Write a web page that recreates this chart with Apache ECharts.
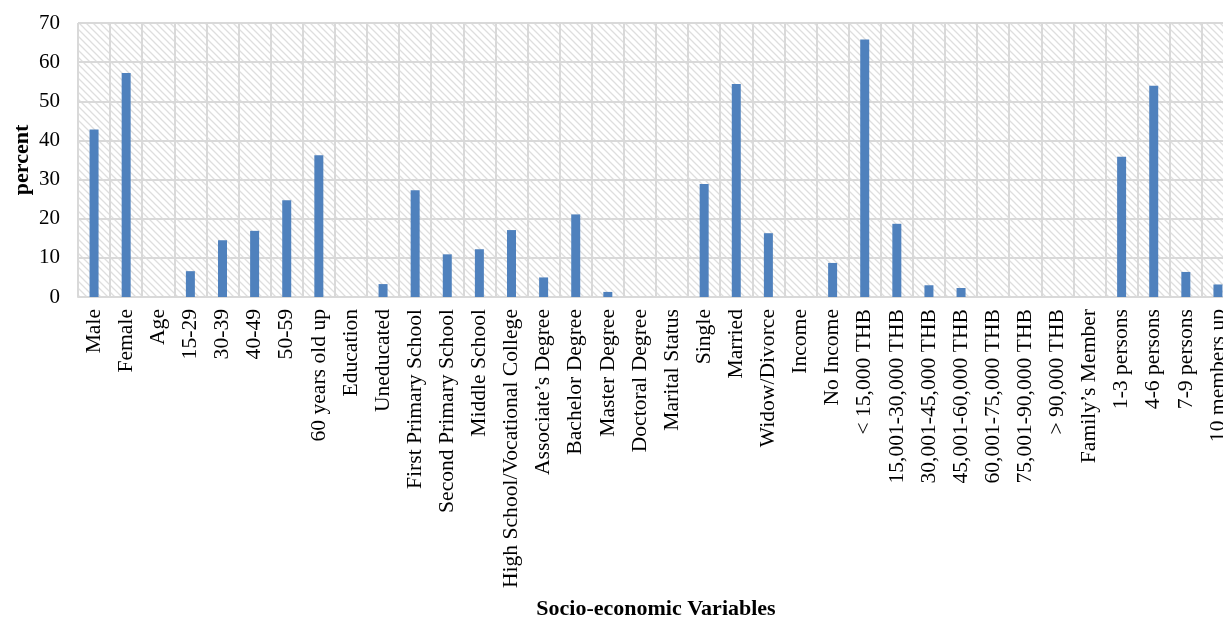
<!DOCTYPE html>
<html>
<head>
<meta charset="utf-8">
<title>Socio-economic Variables</title>
<script src="https://cdn.jsdelivr.net/npm/echarts@6/dist/echarts.min.js"></script>
<style>
  html, body { margin: 0; padding: 0; background: #fff; }
  #main { width: 1223px; height: 619px; }
</style>
</head>
<body>
<div id="main"></div>
<script>
// categories (group headings have no bar)
var categories = [
    'Male', 'Female', 'Age', '15-29', '30-39', '40-49', '50-59', '60 years old up',
    'Education', 'Uneducated', 'First Primary School', 'Second Primary School', 'Middle School',
    'High School/Vocational College', 'Associate\u2019s Degree', 'Bachelor Degree', 'Master Degree',
    'Doctoral Degree', 'Marital Status', 'Single', 'Married', 'Widow/Divorce', 'Income',
    'No Income', '< 15,000 THB', '15,001-30,000 THB', '30,001-45,000 THB', '45,001-60,000 THB',
    '60,001-75,000 THB', '75,001-90,000 THB', '> 90,000 THB', 'Family\u2019s Member',
    '1-3 persons', '4-6 persons', '7-9 persons', '10 members up'
]
// percent values
var percent = [
    42.8, 57.2, null, 6.6, 14.5, 16.9, 24.7, 36.2,
    null, 3.3, 27.3, 10.9, 12.2,
    17.1, 5.0, 21.1, 1.3,
    0, null, 28.9, 54.4, 16.3, null,
    8.7, 65.8, 18.7, 3.0, 2.3,
    0, 0, 0, null,
    35.8, 54.0, 6.4, 3.2
]
var yTicks = { min: 0, max: 70, interval: 10 }

// hatched plot background (light grey downward diagonals)
function hatch() {
    var c = document.createElement('canvas')
    c.width = 7
    c.height = 7
    var ctx = c.getContext('2d')
    ctx.fillStyle = '#ffffff'
    ctx.fillRect(0, 0, 7, 7)
    ctx.strokeStyle = '#dedede'
    ctx.lineWidth = 1.3
    ctx.beginPath()
    ctx.moveTo(-1, -1); ctx.lineTo(8, 8)
    ctx.moveTo(-8, -1); ctx.lineTo(1, 8)
    ctx.moveTo(6, -1); ctx.lineTo(15, 8)
    ctx.stroke()
    return c
}

var font = '"Liberation Serif", "Times New Roman", serif'
var myChart = echarts.init(document.getElementById('main'))
var option = {
    animation: false,
    backgroundColor: '#ffffff',
    grid: {
        show: true,
        left: 78,
        top: 23,
        width: 1156,
        height: 274,
        outerBoundsMode: 'none',
        containLabel: false,
        borderWidth: 0,
        backgroundColor: { image: hatch(), repeat: 'repeat' }
    },
    xAxis: {
        type: 'category',
        data: categories,
        name: 'Socio-economic Variables',
        nameLocation: 'middle',
        nameGap: 301,
        nameMoveOverlap: false,
        nameTextStyle: { fontFamily: font, fontSize: 22, fontWeight: 'bold', color: '#000' },
        axisLine: { lineStyle: { color: '#d9d9d9', width: 2 } },
        axisTick: { show: false },
        axisLabel: {
            interval: 0,
            rotate: 90,
            margin: 12,
            fontFamily: font,
            fontSize: 21.6,
            color: '#000'
        },
        splitLine: { show: true, interval: 0, lineStyle: { color: '#d9d9d9', width: 2 } }
    },
    yAxis: {
        type: 'value',
        min: yTicks.min,
        max: yTicks.max,
        interval: yTicks.interval,
        name: 'percent',
        nameLocation: 'middle',
        nameGap: 45,
        nameMoveOverlap: false,
        nameTextStyle: { fontFamily: font, fontSize: 22, fontWeight: 'bold', color: '#000' },
        axisLine: { show: false },
        axisTick: { show: false },
        axisLabel: { margin: 18, fontFamily: font, fontSize: 21, color: '#000' },
        splitLine: { lineStyle: { color: '#d9d9d9', width: 2 } }
    },
    series: [
        {
            name: 'percent',
            type: 'bar',
            barWidth: 9,
            itemStyle: { color: '#4f81bd' },
            data: percent
        }
    ]
}
myChart.setOption(option)
</script>
</body>
</html>
